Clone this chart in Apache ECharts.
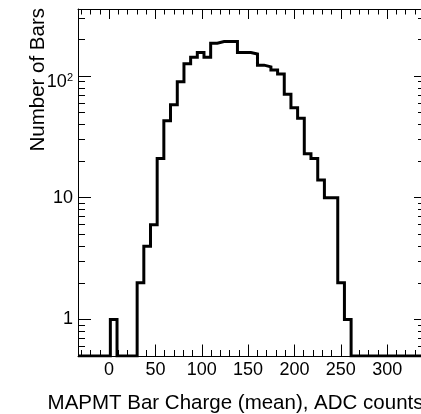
<!DOCTYPE html>
<html><head><meta charset="utf-8">
<script src="https://cdn.jsdelivr.net/npm/echarts@6/dist/echarts.min.js"></script>
<style>html,body{margin:0;padding:0;background:#fff}#c{width:421px;height:414px}</style>
</head><body><div id="c"></div>
<script>
// Histogram bin edges (ADC counts) and bin contents
const binEdges = [1.4, 8.6, 15.8, 23.0, 30.3, 37.5, 44.7, 51.9, 59.1, 66.3, 73.6, 80.8, 88.0, 95.2,
  102.4, 109.6, 116.8, 124.1, 131.3, 138.5, 145.7, 152.9, 160.1, 167.3, 174.6, 181.8, 189.0,
  196.2, 203.4, 210.6, 217.8, 225.1, 232.3, 239.5, 246.7, 253.9, 261.1];
const binCounts = [1, 0, 0, 0, 2, 4, 6, 21, 43, 58, 90, 126, 143, 156, 143, 186, 192, 192, 192,
  156, 156, 152, 123, 119, 112, 104, 71, 55, 45, 23, 21, 14, 10, 10, 2, 1];

const xMajorTicks = [0, 50, 100, 150, 200, 250, 300];
const xMinorTicks = [-30, -20, -10, 0, 10, 20, 30, 40, 50, 60, 70, 80, 90, 100, 110, 120, 130, 140,
  150, 160, 170, 180, 190, 200, 210, 220, 230, 240, 250, 260, 270, 280, 290, 300, 310, 320, 330];
const yMajorTicks = [1, 10, 100];
const yPlainLabels = [1, 10];
const yPowerLabels = [100];
const yMinorTicks = [0.5, 0.6, 0.7, 0.8, 0.9, 2, 3, 4, 5, 6, 7, 8, 9, 20, 30, 40, 50, 60, 70, 80, 90, 200, 300];
const xTitle = 'MAPMT Bar Charge (mean), ADC counts';
const yTitle = 'Number of Bars';

const X_MIN = -33.5, X_MAX = 336.5, Y_MIN = 0.5, Y_MAX = 356;
const FONT = '"Liberation Sans", Arial, Helvetica, sans-serif';

// step path of the histogram; empty bins are drawn on the frame bottom as ROOT does
const pts = [[X_MIN, Y_MIN]];
binCounts.forEach((c, i) => pts.push([binEdges[i], c > 0 ? c : Y_MIN]));
pts.push([binEdges[binEdges.length - 1], Y_MIN]);
pts.push([X_MAX, Y_MIN]);

function xAx(pos, ticks, len, labels, line) {
  return {
    type: 'value', position: pos, min: X_MIN, max: X_MAX,
    axisLine: { show: line, onZero: false, lineStyle: { color: '#000', width: 1 } },
    axisTick: { show: true, inside: true, length: len, customValues: ticks, lineStyle: { color: '#000', width: 1 } },
    axisLabel: labels ? { show: true, customValues: xMajorTicks, margin: 5, color: '#000', fontSize: 18, fontFamily: FONT } : { show: false },
    splitLine: { show: false }
  };
}
function yAx(pos, ticks, len, label, line) {
  return {
    type: 'log', logBase: 10, position: pos, min: Y_MIN, max: Y_MAX,
    axisLine: { show: line, onZero: false, lineStyle: { color: '#000', width: 1 } },
    axisTick: { show: true, inside: true, length: len, customValues: ticks, lineStyle: { color: '#000', width: 1 } },
    axisLabel: label || { show: false },
    splitLine: { show: false }
  };
}
const plainLabel = {
  show: true, customValues: yPlainLabels, margin: 5, color: '#000', fontSize: 18, fontFamily: FONT,
  formatter: v => String(Math.round(v))
};
const powerLabel = {
  show: true, customValues: yPowerLabels, margin: 5, color: '#000', fontSize: 18, fontFamily: FONT,
  padding: [11, 0, 0, 0],
  formatter: v => '{b|10}{s|' + Math.round(Math.log10(v)) + '}',
  rich: {
    b: { fontSize: 18, fontFamily: FONT, color: '#000', lineHeight: 18, verticalAlign: 'bottom' },
    s: { fontSize: 11, fontFamily: FONT, color: '#000', lineHeight: 4, verticalAlign: 'top' }
  }
};

const chart = echarts.init(document.getElementById('c'), null, { renderer: 'canvas' });
chart.setOption({
  animation: false,
  backgroundColor: '#fff',
  grid: { left: 78, top: 9, width: 344, height: 347, containLabel: false },
  xAxis: [
    xAx('bottom', xMajorTicks, 11.5, true, true),
    xAx('bottom', xMinorTicks, 6, false, false),
    xAx('top', xMajorTicks, 10, false, true),
    xAx('top', xMinorTicks, 5.5, false, false)
  ],
  yAxis: [
    yAx('left', yMajorTicks, 13, plainLabel, true),
    yAx('left', yMinorTicks, 7, powerLabel, false),
    yAx('right', yMajorTicks, 7, null, true),
    yAx('right', yMinorTicks, 3, null, false)
  ],
  series: [{
    type: 'line', xAxisIndex: 0, yAxisIndex: 0, data: pts, step: 'end',
    showSymbol: false, symbol: 'none',
    lineStyle: { color: '#000', width: 3, join: 'miter', cap: 'butt' }
  }],
  graphic: [
    { type: 'text', x: 38, y: 8, rotation: Math.PI / 2,
      style: { text: yTitle, font: '20.5px ' + FONT, fill: '#000', align: 'right', verticalAlign: 'middle' } },
    { type: 'text', x: 423.5, y: 403,
      style: { text: xTitle, font: '20.5px ' + FONT, fill: '#000', align: 'right', verticalAlign: 'middle' } }
  ]
});
</script>
</body></html>
